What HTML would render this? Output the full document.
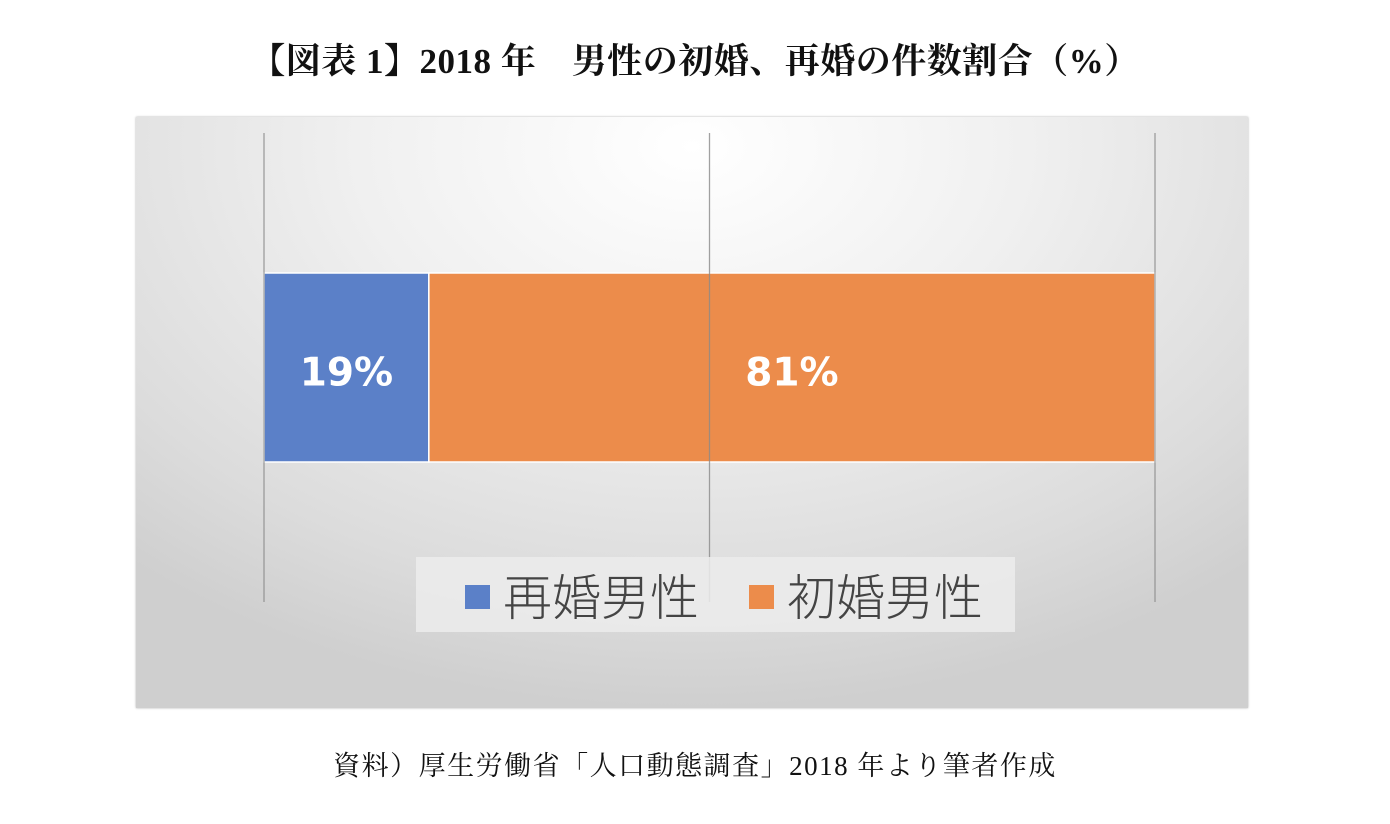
<!DOCTYPE html>
<html><head><meta charset="utf-8"><style>
body{margin:0;width:1390px;height:824px;background:#fff;position:relative;overflow:hidden;font-family:"Liberation Serif","Noto Serif CJK SC",serif}
#title{position:absolute;left:0;width:1390px;top:34px;text-align:center;font-size:35px;font-weight:bold;color:#111;letter-spacing:0.5px;padding-left:0}
#src{position:absolute;left:0;width:1390px;top:744px;text-align:center;font-size:27px;color:#111;letter-spacing:1.5px}
#chart{position:absolute;left:136px;top:117px;width:1112px;height:591px;background:radial-gradient(ellipse 75% 95% at 50% 5%,#ffffff 0%,#f0f0f0 40%,#dcdcdc 80%,#cfcfcf 100%);box-shadow:0 0 2px #aaa}
</style></head><body>
<div id="title">【図表 1】2018 年　男性の初婚、再婚の件数割合（%）</div>
<div id="chart">
<svg id="svg" width="1112" height="591" style="position:absolute;left:0;top:0"></svg>
</div>
<div id="src">資料）厚生労働省「人口動態調査」2018 年より筆者作成</div>
<script>
const categories=["再婚男性","初婚男性"];
const values=[18.5,81.5];
const labels=["19%","81%"];
const colors=["#5b80c8","#ec8c4b"];
const ticks=[0,50,100];
const svg=document.getElementById('svg');
const NS='http://www.w3.org/2000/svg';
const x0=128,x1=1019,barTop=156,barH=189;
const total=values.reduce((a,b)=>a+b,0);
function xs(v){return x0+(x1-x0)*v/total;}
let acc=0;
values.forEach((v,i)=>{const r=document.createElementNS(NS,'rect');


r.setAttribute('x',xs(acc));r.setAttribute('y',barTop);r.setAttribute('width',xs(acc+v)-xs(acc));r.setAttribute('height',barH);r.setAttribute('fill',colors[i]);r.setAttribute('stroke','#fff');r.setAttribute('stroke-width','1.5');svg.appendChild(r);
acc+=v;});
ticks.forEach(t=>{const l=document.createElementNS(NS,'line');


const x=x0+(x1-x0)*t/100;l.setAttribute('x1',x);l.setAttribute('x2',x);l.setAttribute('y1',16);l.setAttribute('y2',485);l.setAttribute('stroke','#8a8a8a');l.setAttribute('stroke-width','1.3');l.setAttribute('opacity','0.8');svg.appendChild(l);});
acc=0;
values.forEach((v,i)=>{
const t=document.createElementNS(NS,'text');


t.setAttribute('x',(xs(acc)+xs(acc+v))/2);t.setAttribute('y',barTop+barH/2+18);t.setAttribute('text-anchor','middle');t.setAttribute('fill','#fff');t.setAttribute('font-size','39');t.setAttribute('font-weight','bold');t.setAttribute('font-family','DejaVu Sans, Liberation Sans, sans-serif');t.textContent=labels[i];svg.appendChild(t);
acc+=v;});
// legend
const lg=document.createElementNS(NS,'rect');


lg.setAttribute('x',280);lg.setAttribute('y',440);lg.setAttribute('width',599);lg.setAttribute('height',75);lg.setAttribute('fill','#ececec');lg.setAttribute('opacity','0.85');svg.appendChild(lg);
const lx=[329,613];
categories.forEach((c,i)=>{const s=document.createElementNS(NS,'rect');


s.setAttribute('x',lx[i]);s.setAttribute('y',468);s.setAttribute('width',25);s.setAttribute('height',24);s.setAttribute('fill',colors[i]);svg.appendChild(s);
const t=document.createElementNS(NS,'text');


t.setAttribute('x',lx[i]+38);t.setAttribute('y',498);t.setAttribute('font-size','49');t.setAttribute('fill','#444');t.setAttribute('font-family','Liberation Sans, Noto Sans CJK JP, sans-serif');t.setAttribute('font-weight','300');t.textContent=c;svg.appendChild(t);});
</script>
</body></html>
